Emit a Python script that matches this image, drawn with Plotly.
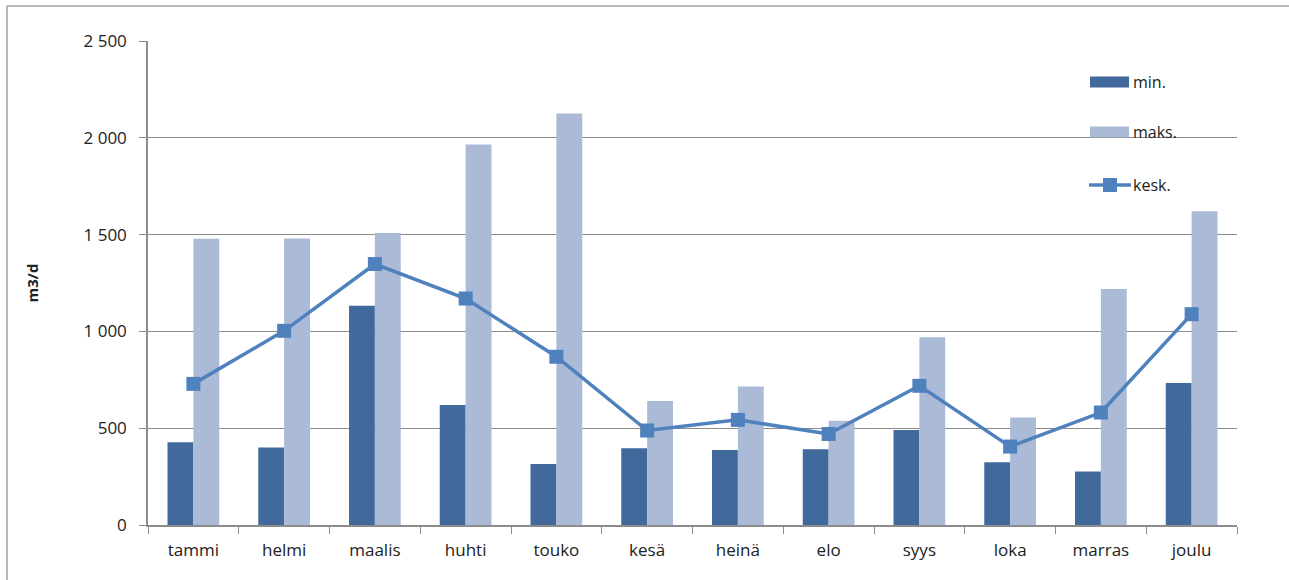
import plotly.graph_objects as go

months = ["tammi", "helmi", "maalis", "huhti", "touko", "kesä",
          "heinä", "elo", "syys", "loka", "marras", "joulu"]
min_vals = [428, 400, 1132, 620, 315, 397, 388, 391, 491, 324, 276, 733]
max_vals = [1479, 1480, 1508, 1966, 2125, 640, 715, 538, 970, 555, 1219, 1620]
avg_vals = [729, 1003, 1348, 1170, 869, 488, 543, 470, 719, 405, 581, 1089]
y_ticks = [0, 500, 1000, 1500, 2000, 2500]

C_MIN = "#41699C"
C_MAX = "#AABAD7"
C_AVG = "#4F81BD"
GRID = "#8C8C8C"
FONT = "Open Sans"

W, H = 1289, 580
L, R, T, B = 148, 52, 41, 55
PW, PH = W - L - R, H - T - B


def px(x):
    return (x - L) / PW


def py(y):
    return (H - B - y) / PH


fig = go.Figure()
fig.add_trace(go.Bar(x=months, y=min_vals, name="min.", marker_color=C_MIN,
                     marker_line_width=0))
fig.add_trace(go.Bar(x=months, y=max_vals, name="maks.", marker_color=C_MAX,
                     marker_line_width=0))
fig.add_trace(go.Scatter(x=months, y=avg_vals, name="kesk.", mode="lines+markers",
                         line=dict(color=C_AVG, width=3.5),
                         marker=dict(symbol="square", size=14, color=C_AVG)))

shapes = []
annotations = []

# legend drawn in pixel-aligned paper coordinates
leg_x0, leg_x1, txt_x = 1090, 1129, 1131
for name, color, yc in [("min.", C_MIN, 82), ("maks.", C_MAX, 132)]:
    shapes.append(dict(type="rect", xref="paper", yref="paper",
                       x0=px(leg_x0), x1=px(leg_x1), y0=py(yc + 5.5), y1=py(yc - 5.5),
                       fillcolor=color, line_width=0))
    annotations.append(dict(x=px(txt_x), y=py(yc), xref="paper", yref="paper",
                            text=name, showarrow=False, xanchor="left", yanchor="middle",
                            font=dict(family=FONT, size=16, color="#222222")))
yk = 185
shapes.append(dict(type="line", xref="paper", yref="paper",
                   x0=px(1089), x1=px(1131), y0=py(yk), y1=py(yk),
                   line=dict(color=C_AVG, width=3.5)))
shapes.append(dict(type="rect", xref="paper", yref="paper",
                   x0=px(1103), x1=px(1117), y0=py(yk + 7), y1=py(yk - 7),
                   fillcolor=C_AVG, line_width=0))
annotations.append(dict(x=px(txt_x), y=py(yk), xref="paper", yref="paper",
                        text="kesk.", showarrow=False, xanchor="left", yanchor="middle",
                        font=dict(family=FONT, size=16, color="#222222")))

# outer chart frame (top and left edges)
shapes.append(dict(type="line", xref="paper", yref="paper",
                   x0=px(7), x1=px(1295), y0=py(6), y1=py(6),
                   line=dict(color="#A0A0A0", width=1.5)))
shapes.append(dict(type="line", xref="paper", yref="paper",
                   x0=px(7), x1=px(7), y0=py(6), y1=py(590),
                   line=dict(color="#A0A0A0", width=1.5)))

fig.update_layout(
    width=W, height=H,
    margin=dict(l=L, r=R, t=T, b=B),
    paper_bgcolor="white", plot_bgcolor="white",
    barmode="group", bargap=0.43, bargroupgap=0,
    showlegend=False,
    separators=", ",
    font=dict(family=FONT, size=17, color="#222222"),
    shapes=shapes, annotations=annotations,
)
fig.update_xaxes(
    type="category", range=[-0.5, len(months) - 0.5],
    showline=True, linecolor=GRID, linewidth=1.5,
    ticks="outside", tickson="boundaries", ticklen=7, tickcolor=GRID, tickwidth=1,
    showgrid=False, tickfont=dict(family=FONT, size=17), ticklabelstandoff=9,
)
fig.update_yaxes(
    range=[0, 2500], tickvals=y_ticks, tickformat=",d",
    showline=True, linecolor=GRID, linewidth=1.5,
    ticks="outside", ticklen=7, tickcolor=GRID, tickwidth=1,
    showgrid=True, gridcolor=GRID, gridwidth=1, zeroline=False,
    tickfont=dict(family=FONT, size=17), ticklabelstandoff=9,
    title=dict(text="<b>m3/d</b>", font=dict(family=FONT, size=15), standoff=41),
)

fig.write_html("out.html")
